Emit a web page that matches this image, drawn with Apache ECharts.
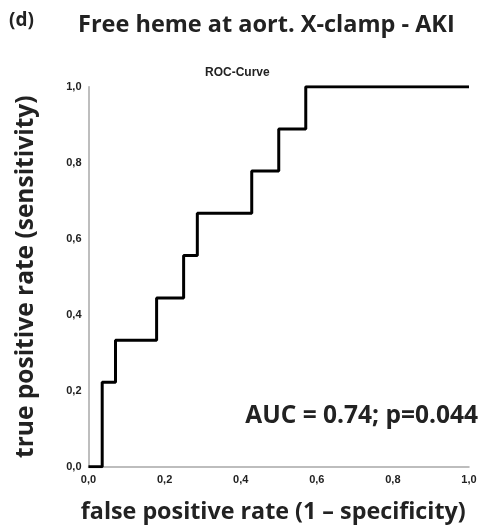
<!DOCTYPE html>
<html>
<head>
<meta charset="utf-8">
<script src="https://cdn.jsdelivr.net/npm/echarts@6/dist/echarts.min.js"></script>
<style>
  html, body { margin: 0; padding: 0; background: #fff; }
  #chart { width: 481px; height: 529px; }
</style>
</head>
<body>
<div id="chart"></div>
<script>
// ROC curve corner points (step 'end': horizontal first, then up)
const fpr = [0, 0.036, 0.071, 0.179, 0.25, 0.286, 0.429, 0.5, 0.571, 1.0];
const tpr = [0, 0.222, 0.333, 0.444, 0.556, 0.667, 0.778, 0.889, 1.0, 1.0];
const tickLabels = ['0,0', '0,2', '0,4', '0,6', '0,8', '1,0'];
const aucText = 'AUC = 0.74; p=0.044';

const points = fpr.map((x, i) => [x, tpr[i]]);
const fmt = v => tickLabels[Math.round(v * 5)] || '';
const bigFont = { fontFamily: 'Open Sans', fontWeight: 'bold', color: '#222' };
const tickFont = { fontFamily: 'Liberation Sans', fontWeight: 'bold', fontSize: 11, color: '#222' };

const chart = echarts.init(document.getElementById('chart'), null, { renderer: 'canvas' });
chart.setOption({
  animation: false,
  backgroundColor: '#fff',
  title: [
    { text: '(d)', left: 4, top: 6, textStyle: { ...bigFont, fontSize: 19 } },
    { text: 'Free heme at aort. X-clamp - AKI', left: 73, top: 8.5, textStyle: { ...bigFont, fontSize: 23.5 } },
    { text: 'ROC-Curve', left: 200, top: 62, textStyle: { ...tickFont, fontSize: 12 } },
    { text: aucText, right: 3, top: 404, padding: 0, textStyle: { ...bigFont, fontSize: 24.5 } }
  ],
  grid: { left: 88.5, right: 12, top: 86.7, bottom: 62.3, containLabel: false },
  xAxis: {
    type: 'value', min: 0, max: 1, interval: 0.2,
    name: 'false positive rate (1 – specificity)',
    nameLocation: 'middle', nameGap: 34,
    nameTextStyle: { ...bigFont, fontSize: 23.3, padding: [0, 11, 0, 0] },
    axisLine: { show: true, lineStyle: { color: '#a8a8a8', width: 1.5 } },
    axisTick: { show: false },
    splitLine: { show: false },
    axisLabel: { ...tickFont, margin: 8, formatter: fmt }
  },
  yAxis: {
    type: 'value', min: 0, max: 1, interval: 0.2,
    name: 'true positive rate (sensitivity)',
    nameLocation: 'middle', nameGap: 50, nameRotate: 90,
    nameTextStyle: { ...bigFont, fontSize: 24.5 },
    axisLine: { show: true, lineStyle: { color: '#a8a8a8', width: 1.5 } },
    axisTick: { show: false },
    splitLine: { show: false },
    axisLabel: { ...tickFont, margin: 7, formatter: fmt }
  },
  series: [{
    type: 'line',
    data: points,
    step: 'end',
    symbol: 'none',
    lineStyle: { color: '#000', width: 3 }
  }]
});
</script>
</body>
</html>
